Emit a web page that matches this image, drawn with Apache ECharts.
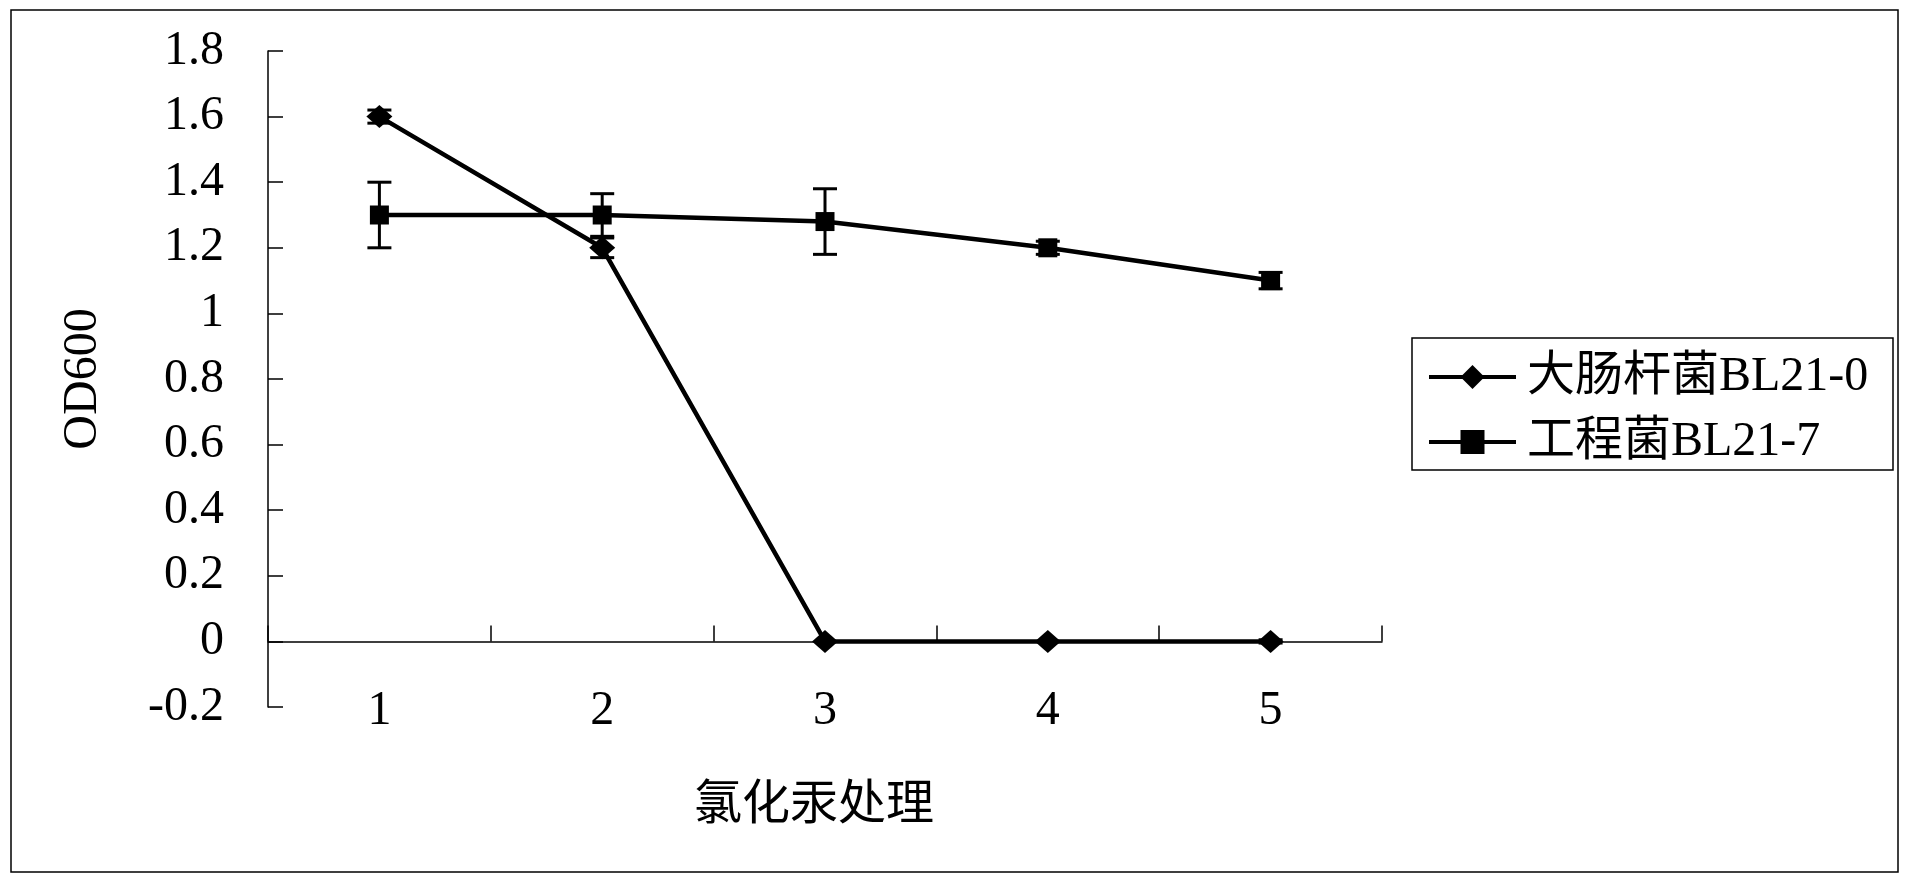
<!DOCTYPE html>
<html><head><meta charset="utf-8">
<script src="https://cdn.jsdelivr.net/npm/echarts@6/dist/echarts.min.js"></script>
<style>html,body{margin:0;padding:0;background:#fff}#c{width:1912px;height:886px}</style>
</head><body><div id="c"></div>
<script>
const categories = ['1', '2', '3', '4', '5'];
const seriesNames = ['大肠杆菌BL21-0', '工程菌BL21-7'];
const ecoliValues = [1.6, 1.2, 0, 0, 0];
const ecoliErrors = [0.02, 0.03, 0, 0, 0.005];
const engValues = [1.3, 1.3, 1.28, 1.2, 1.1];
const engErrors = [0.1, 0.065, 0.1, 0.02, 0.025];
const yMin = -0.2, yMax = 1.8, yStep = 0.2;
const xTitle = '氯化汞处理';
const yTitle = 'OD600';

const FONT = "'Liberation Serif', 'Noto Sans CJK SC', serif";
const chart = echarts.init(document.getElementById('c'), null, {renderer: 'canvas'});

function errData(vals, errs) {
  return categories.map((c, i) => [i, vals[i], errs[i]]);
}
function errRender(params, api) {
  const x = api.value(0), v = api.value(1), e = api.value(2);
  if (!e) return null;
  const top = api.coord([x, v + e]), bot = api.coord([x, v - e]);
  const hw = 12;
  const st = {stroke: '#000', lineWidth: 3};
  return {type: 'group', children: [
    {type: 'line', shape: {x1: top[0], y1: top[1], x2: bot[0], y2: bot[1]}, style: st},
    {type: 'line', shape: {x1: top[0] - hw, y1: top[1], x2: top[0] + hw, y2: top[1]}, style: st},
    {type: 'line', shape: {x1: bot[0] - hw, y1: bot[1], x2: bot[0] + hw, y2: bot[1]}, style: st}
  ]};
}

const option = {
  backgroundColor: '#fff',
  animation: false,
  textStyle: {fontFamily: FONT, color: '#000'},
  grid: {left: 268, right: 530, top: 51, bottom: 179, containLabel: false},
  graphic: [
    {type: 'rect', shape: {x: 11, y: 10, width: 1887, height: 862}, style: {fill: 'none', stroke: '#000', lineWidth: 1.5}, z: 0},
    {type: 'rect', shape: {x: 1412, y: 338, width: 481, height: 132}, style: {fill: 'none', stroke: '#000', lineWidth: 1.5}, z: 0}
  ],
  legend: {
    data: seriesNames,
    orient: 'vertical',
    left: 1412, top: 338,
    padding: [15, 0, 0, 15],
    itemWidth: 87, itemHeight: 30, itemGap: 17,
    lineStyle: {width: 4, color: '#000'},
    textStyle: {fontFamily: FONT, fontSize: 48, lineHeight: 48, color: '#000', padding: [0, 0, 0, 6]},
    selectedMode: false
  },
  xAxis: [{
    type: 'category', data: categories, boundaryGap: true,
    axisLine: {show: true, onZero: true, lineStyle: {color: '#000', width: 1.5}},
    axisTick: {show: true, inside: true, length: 16, interval: 0, lineStyle: {color: '#000', width: 1.5}},
    axisLabel: {show: false},
    splitLine: {show: false}
  }, {
    type: 'category', data: categories, boundaryGap: true, position: 'bottom',
    axisLine: {show: false, onZero: false},
    axisTick: {show: false},
    axisLabel: {show: true, fontFamily: FONT, fontSize: 48, color: '#000', margin: 4, verticalAlign: 'middle'},
    splitLine: {show: false},
    name: xTitle, nameLocation: 'middle', nameGap: 99,
    nameTextStyle: {fontFamily: FONT, fontSize: 48, color: '#000', verticalAlign: 'middle', padding: [0, 22, 0, 0]}
  }],
  yAxis: {
    type: 'value', min: yMin, max: yMax, interval: yStep,
    axisLine: {show: true, onZero: false, lineStyle: {color: '#000', width: 1.5}},
    axisTick: {show: true, inside: true, length: 15, lineStyle: {color: '#000', width: 1.5}},
    axisLabel: {fontFamily: FONT, fontSize: 48, color: '#000', margin: 44},
    splitLine: {show: false},
    name: yTitle, nameLocation: 'middle', nameGap: 185,
    nameTextStyle: {fontFamily: FONT, fontSize: 48, color: '#000', verticalAlign: 'middle'}
  },
  series: [{
    name: seriesNames[0], type: 'line', data: ecoliValues,
    symbol: 'diamond', symbolSize: [26, 23],
    lineStyle: {color: '#000', width: 4.5}, itemStyle: {color: '#000'}, z: 3
  }, {
    name: seriesNames[1], type: 'line', data: engValues,
    symbol: 'rect', symbolSize: 19,
    lineStyle: {color: '#000', width: 4.5}, itemStyle: {color: '#000'}, z: 3
  }, {
    type: 'custom', renderItem: errRender, data: errData(ecoliValues, ecoliErrors),
    encode: {x: 0, y: 1}, z: 4, silent: true
  }, {
    type: 'custom', renderItem: errRender, data: errData(engValues, engErrors),
    encode: {x: 0, y: 1}, z: 4, silent: true
  }]
};
chart.setOption(option);
</script>
</body></html>
